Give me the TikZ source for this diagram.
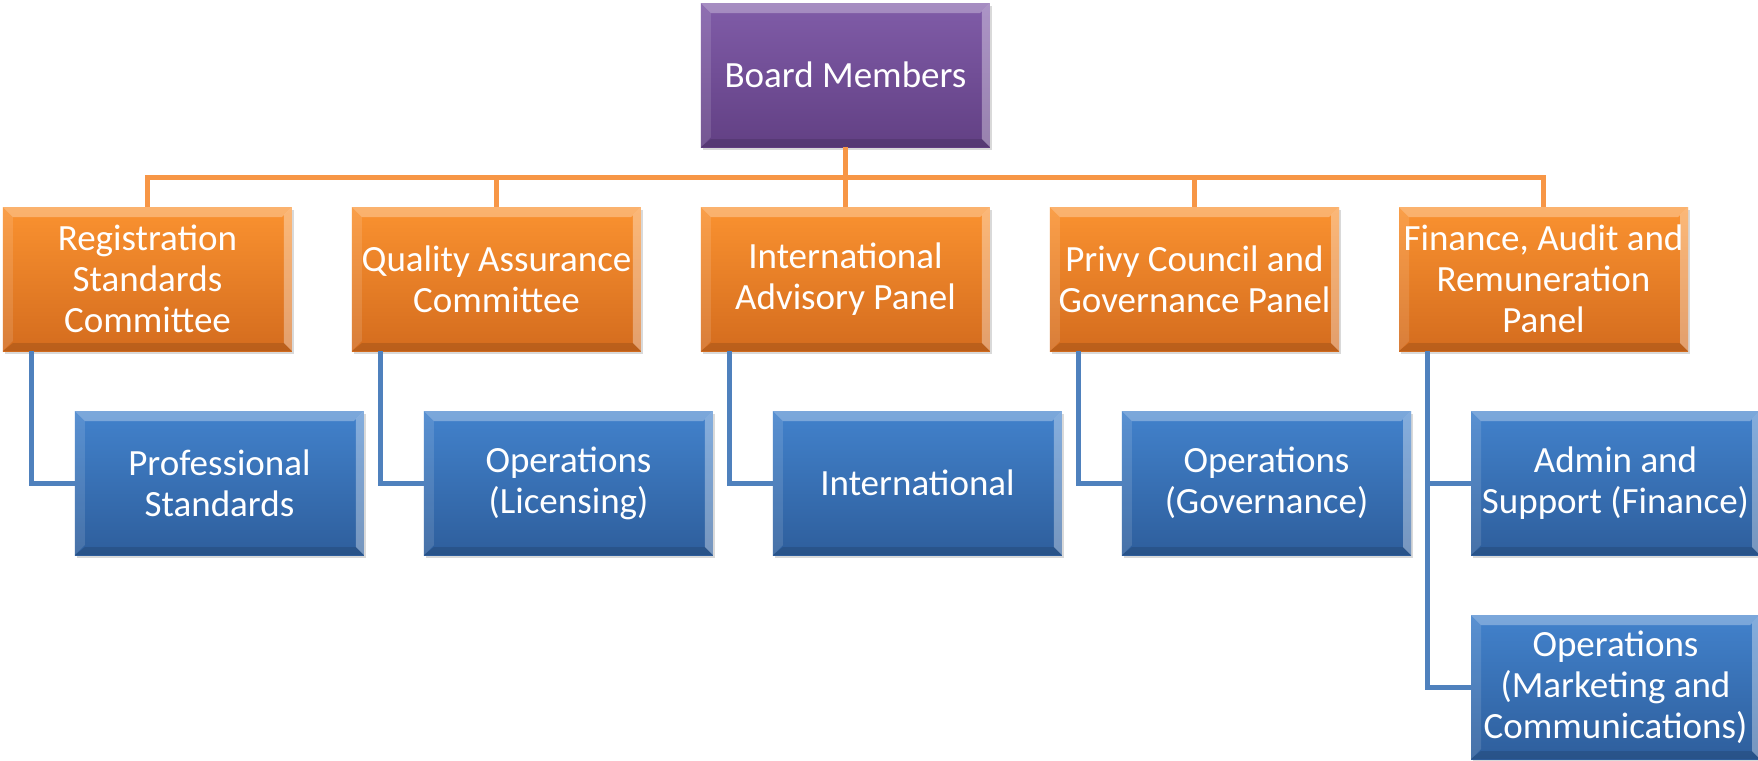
\documentclass[tikz,border=0pt]{standalone}
\usepackage{fontspec}
\setmainfont{Carlito}
\usepackage{tikz}
\usetikzlibrary{shadows}
\definecolor{boardtop}{RGB}{128,92,168}
\definecolor{boardbot}{RGB}{98,64,132}
\definecolor{paneltop}{RGB}{250,146,48}
\definecolor{panelbot}{RGB}{212,108,30}
\definecolor{unittop}{RGB}{66,130,204}
\definecolor{unitbot}{RGB}{46,94,156}
\definecolor{orgorange}{RGB}{247,150,70}
\definecolor{orgblue}{RGB}{79,129,189}
\tikzset{bevel/.style={path picture={
    \fill[white, opacity=0.3] (path picture bounding box.north west) -- (path picture bounding box.north east)
        -- ([shift={(-5pt,-5pt)}]path picture bounding box.north east) -- ([shift={(5pt,-5pt)}]path picture bounding box.north west) -- cycle;
    \fill[white, opacity=0.35] (path picture bounding box.north east) -- (path picture bounding box.south east)
        -- ([shift={(-4pt,4pt)}]path picture bounding box.south east) -- ([shift={(-4pt,-4pt)}]path picture bounding box.north east) -- cycle;
    \fill[white, opacity=0.12] (path picture bounding box.north west) -- (path picture bounding box.south west)
        -- ([shift={(5pt,5pt)}]path picture bounding box.south west) -- ([shift={(5pt,-5pt)}]path picture bounding box.north west) -- cycle;
    \fill[black, opacity=0.12] (path picture bounding box.south west) -- (path picture bounding box.south east)
        -- ([shift={(-4pt,4pt)}]path picture bounding box.south east) -- ([shift={(5pt,4pt)}]path picture bounding box.south west) -- cycle;
}}}
\tikzstyle{chartbox} = [rectangle, minimum width=144.5pt, minimum height=72pt, inner sep=0pt, align=center, text=white, font=\fontsize{18.5}{20.5}\selectfont, drop shadow={shadow xshift=1pt, shadow yshift=-1.5pt, opacity=0.3}, bevel]
\tikzstyle{board} = [chartbox, top color=boardtop, bottom color=boardbot]
\tikzstyle{panel} = [chartbox, top color=paneltop, bottom color=panelbot]
\tikzstyle{unit} = [chartbox, top color=unittop, bottom color=unitbot]
\tikzstyle{orgline} = [line width=2.8pt, draw=orgorange]
\tikzstyle{unitline} = [line width=2.5pt, draw=orgblue]

\begin{document}
\begin{tikzpicture}[node distance=102pt]
        \useasboundingbox (-422.75pt,-343pt) rectangle (456.25pt,37.5pt);
        \node (board) [board] {Board Members};
        \node (intlpanel) [panel, below of=board] {International\\Advisory Panel};
        \node (qualas) [panel, left of=intlpanel, xshift=-72.5pt] {Quality Assurance\\Committee};
        \node (regstd) [panel, left of=qualas, xshift=-72.5pt] {Registration\\Standards\\Committee};
        \node (privy) [panel, right of=intlpanel, xshift=72.5pt] {Privy Council and\\Governance Panel};
        \node (finaudit) [panel, right of=privy, xshift=72.5pt] {Finance, Audit and\\Remuneration\\Panel};
        \node (profstd) [unit, below of=regstd, xshift=36pt] {Professional\\Standards};
        \node (opslic) [unit, below of=qualas, xshift=36pt] {Operations\\(Licensing)};
        \node (intl) [unit, below of=intlpanel, xshift=36pt] {International};
        \node (opsgov) [unit, below of=privy, xshift=36pt] {Operations\\(Governance)};
        \node (admin) [unit, below of=finaudit, xshift=36pt] {Admin and\\Support (Finance)};
        \node (opsmkt) [unit, below of=admin] {Operations\\(Marketing and\\Communications)};

        \draw [orgline] (board.south) -- ++(0,-15pt) -| (regstd.north);
        \draw [orgline] (board.south) -- ++(0,-15pt) -| (qualas.north);
        \draw [orgline] (board.south) -- (intlpanel.north);
        \draw [orgline] (board.south) -- ++(0,-15pt) -| (privy.north);
        \draw [orgline] (board.south) -- ++(0,-15pt) -| (finaudit.north);
        \draw [unitline] ([xshift=14.5pt]regstd.south west) |- (profstd.west);
        \draw [unitline] ([xshift=14.5pt]qualas.south west) |- (opslic.west);
        \draw [unitline] ([xshift=14.5pt]intlpanel.south west) |- (intl.west);
        \draw [unitline] ([xshift=14.5pt]privy.south west) |- (opsgov.west);
        \draw [unitline] ([xshift=14.5pt]finaudit.south west) |- (admin.west);
        \draw [unitline] ([xshift=14.5pt]finaudit.south west) |- (opsmkt.west);
    \end{tikzpicture}
\end{document}
